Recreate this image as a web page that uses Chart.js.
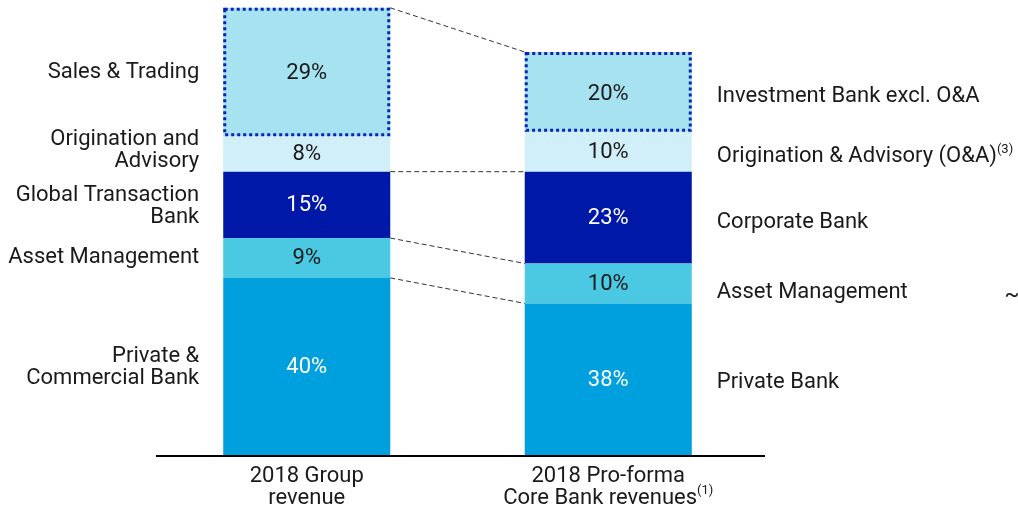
<!DOCTYPE html>
<html lang="en">
<head>
<meta charset="UTF-8">
<script src="https://cdn.jsdelivr.net/npm/chart.js@4.4.1/dist/chart.umd.min.js"></script>
<title>Core Bank revenues</title>
<style>
  html, body { margin: 0; padding: 0; background: #fff; }
</style>
</head>
<body>
<canvas id="myChart" width="1018" height="508"></canvas>
<script>
  // bars, bottom segment first
  const categories = [['2018 Group', 'revenue'], ['2018 Pro-forma', 'Core Bank revenues']];
  const categoryNotes = ['', '(1)'];
  const groupLabels = [['Private &', 'Commercial Bank'], ['Asset Management'], ['Global Transaction', 'Bank'], ['Origination and', 'Advisory'], ['Sales & Trading']];
  const coreLabels = ['Private Bank', 'Asset Management', 'Corporate Bank', 'Origination & Advisory (O&A)', 'Investment Bank excl. O&A'];
  const coreNotes = ['', '', '', '(3)', ''];
  const groupShares = [40, 9, 15, 8, 29];
  const coreShares = [38, 10, 23, 10, 20];
  const revenueTotals = [25.3, 22.8]; // EUR bn, sets bar heights

  const colors = ['#00a0de', '#4bc8e2', '#0018a8', '#d0eff8', '#a6e2ef'];
  const valueColors = ['#fff', '#1a1a1a', '#fff', '#1a1a1a', '#1a1a1a'];
  const FONT = 'Roboto, "Liberation Sans", sans-serif';
  // small nudges so the side labels sit where the original has them
  const leftNudge = [1, 0, 2, -3, 0];
  const rightNudge = [3, 9, 5, 5, 5];

  const datasets = groupShares.map((g, i) => ({
    label: groupLabels[i].join(' ') + ' / ' + coreLabels[i],
    data: [g * revenueTotals[0] / 100, coreShares[i] * revenueTotals[1] / 100],
    backgroundColor: colors[i],
    borderWidth: 0,
    barPercentage: 0.554,
    categoryPercentage: 1
  }));

  const extras = {
    id: 'extras',
    afterDatasetsDraw(chart) {
      const ctx = chart.ctx;
      const area = chart.chartArea;
      const metas = datasets.map((d, i) => chart.getDatasetMeta(i).data);
      ctx.save();
      ctx.textBaseline = 'middle';

      // connector lines between the bars
      ctx.strokeStyle = '#333';
      ctx.lineWidth = 1;
      ctx.setLineDash([5, 3]);
      [0, 1, 2, 4].forEach(i => {
        const l = metas[i][0], r = metas[i][1];
        ctx.beginPath();
        ctx.moveTo(l.x + l.width / 2, l.y);
        ctx.lineTo(r.x - r.width / 2, r.y);
        ctx.stroke();
      });

      // dotted frame round the top segments
      ctx.strokeStyle = '#0b23b5';
      ctx.lineWidth = 3;
      ctx.setLineDash([3, 3]);
      metas[4].forEach(b => {
        ctx.strokeRect(b.x - b.width / 2 + 1.5, b.y + 1.5, b.width - 3, b.base - b.y - 3);
      });
      ctx.setLineDash([]);

      // axis line
      ctx.strokeStyle = '#000';
      ctx.lineWidth = 2;
      ctx.beginPath();
      ctx.moveTo(area.left, area.bottom + 1);
      ctx.lineTo(area.right + 6, area.bottom + 1);
      ctx.stroke();

      // values in the segments
      ctx.font = '22px ' + FONT;
      ctx.textAlign = 'center';
      metas.forEach((bars, i) => {
        ctx.fillStyle = valueColors[i];
        bars.forEach((b, j) => {
          const v = j === 0 ? groupShares[i] : coreShares[i];
          ctx.fillText(v + '%', b.x, (b.y + b.base) / 2 + (j === 1 && i === 4 ? 3 : 1));
        });
      });

      ctx.fillStyle = '#1a1a1a';
      ctx.font = '22px ' + FONT;
      // left side segment names
      ctx.textAlign = 'right';
      metas.forEach((bars, i) => {
        const b = bars[0];
        const lines = groupLabels[i];
        const mid = (b.y + b.base) / 2 + leftNudge[i];
        lines.forEach((t, k) => {
          ctx.fillText(t, b.x - b.width / 2 - 24, mid + (k - (lines.length - 1) / 2) * 22);
        });
      });
      // right side segment names
      ctx.textAlign = 'left';
      metas.forEach((bars, i) => {
        const b = bars[1];
        const x = b.x + b.width / 2 + 25;
        const y = (b.y + b.base) / 2 + rightNudge[i];
        ctx.font = '22px ' + FONT;
        ctx.fillText(coreLabels[i], x, y);
        if (coreNotes[i]) {
          const w = ctx.measureText(coreLabels[i]).width;
          ctx.font = '13px ' + FONT;
          ctx.fillText(coreNotes[i], x + w, y - 7);
        }
      });

      // category labels, centred together with their note
      ctx.textAlign = 'left';
      metas[0].forEach((b, j) => {
        categories[j].forEach((t, k) => {
          const y = area.bottom + 21 + k * 22;
          const note = k === categories[j].length - 1 ? categoryNotes[j] : '';
          ctx.font = '13px ' + FONT;
          const nw = note ? ctx.measureText(note).width : 0;
          ctx.font = '22px ' + FONT;
          const w = ctx.measureText(t).width;
          const x0 = b.x - (w + nw) / 2;
          ctx.fillText(t, x0, y);
          if (note) {
            ctx.font = '13px ' + FONT;
            ctx.fillText(note, x0 + w, y - 7);
          }
        });
      });

      ctx.font = '22px ' + FONT;
      ctx.textAlign = 'center';
      ctx.fillText('~', 1012, 295);
      ctx.restore();
    }
  };

  new Chart(document.getElementById('myChart').getContext('2d'), {
    type: 'bar',
    data: { labels: categories.map(c => c.join(' ')), datasets },
    options: {
      responsive: false,
      animation: false,
      layout: { padding: { left: 156, right: 259, top: 0, bottom: 53 } },
      plugins: { legend: { display: false }, tooltip: { enabled: false } },
      scales: {
        x: { stacked: true, display: false },
        y: { stacked: true, display: false, min: 0, max: 26 }
      }
    },
    plugins: [extras]
  });
</script>
</body>
</html>
